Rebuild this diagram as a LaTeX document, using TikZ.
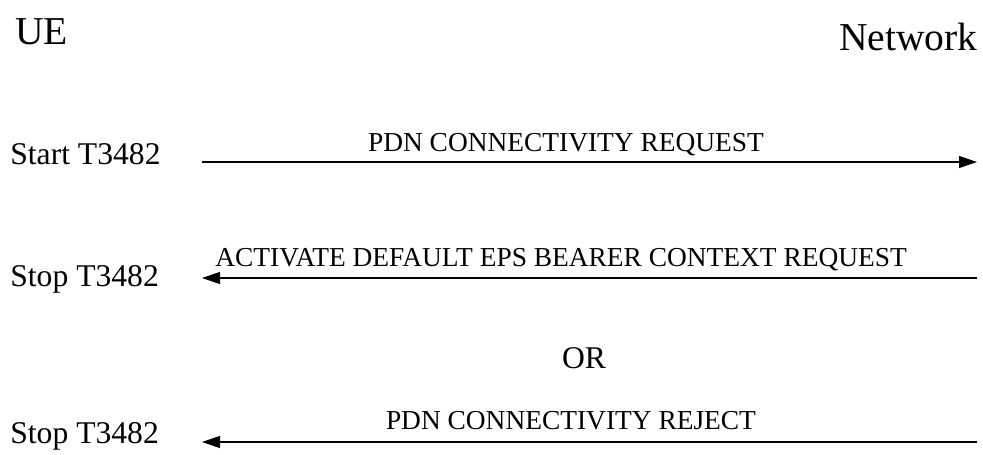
\documentclass[tikz,border=0pt]{standalone}
\usepackage{fontspec}
\setmainfont{Liberation Serif}
\usetikzlibrary{arrows.meta}
\tikzstyle{party} = [inner sep=0pt, font=\fontsize{22.5}{27}\selectfont]
\tikzstyle{timer} = [inner sep=0pt, font=\fontsize{18}{22}\selectfont]
\tikzstyle{msg} = [inner sep=0pt, font=\fontsize{15.6}{19}\selectfont]
\tikzstyle{line} = [draw, line width=0.6pt, -{Triangle[length=0.36cm, width=0.24cm]}]

\begin{document}
\begin{tikzpicture}[x=0.02cm, y=-0.02cm]
	\useasboundingbox (0,0) rectangle (983,455);

		\node [party, anchor=base west] (ue) at (15,45) {UE};
		\node [party, anchor=base east] (network) at (978,51) {Network};

		\node [timer, anchor=base west] (start) at (10,165) {Start T3482};
		\coordinate (ue1) at (202,162);
		\coordinate (net1) at (977,162);
		\path [line] (ue1) -- (net1);
		\node [msg, anchor=base] (pdnreq) at (566,152) {PDN CONNECTIVITY REQUEST};

		\node [timer, anchor=base west] (stop1) at (10,287) {Stop T3482};
		\coordinate (ue2) at (202,278);
		\coordinate (net2) at (977,278);
		\path [line] (net2) -- (ue2);
		\node [msg, anchor=base west] (actreq) at (215,267) {ACTIVATE DEFAULT EPS BEARER CONTEXT REQUEST};

		\node [timer, anchor=base] (or) at (584,369) {OR};

		\node [timer, anchor=base west] (stop2) at (10,443) {Stop T3482};
		\coordinate (ue3) at (202,442);
		\coordinate (net3) at (977,442);
		\path [line] (net3) -- (ue3);
		\node [msg, anchor=base] (pdnrej) at (571,430) {PDN CONNECTIVITY REJECT};
	\end{tikzpicture}
\end{document}
